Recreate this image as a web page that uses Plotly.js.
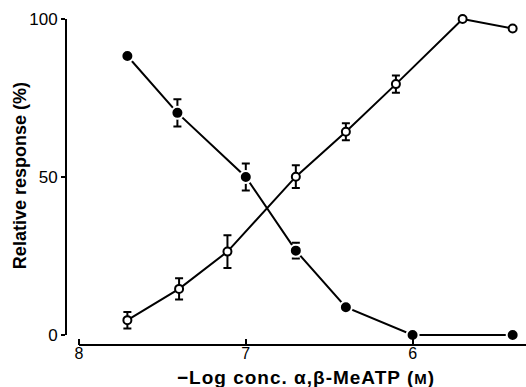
<!DOCTYPE html>
<html>
<head>
<meta charset="utf-8">
<script src="https://cdn.plot.ly/plotly-3.0.1.min.js"></script>
<style>html,body{margin:0;padding:0;background:#fff;}#chart{width:526px;height:387px;}</style>
</head>
<body>
<div id="chart"></div>
<script>
// Closed circles
const xClosed = [7.71, 7.41, 7.0, 6.70, 6.40, 6.0, 5.40];
const yClosed = [88.3, 70.3, 50.0, 26.7, 8.8, 0, 0];
const errClosed = [0, 4.3, 4.3, 2.5, 0, 0, 0];
// Open circles
const xOpen = [7.71, 7.40, 7.11, 6.70, 6.40, 6.10, 5.70, 5.40];
const yOpen = [4.7, 14.6, 26.4, 50.1, 64.3, 79.4, 100, 97];
const errOpen = [2.6, 3.4, 5.2, 3.6, 2.7, 2.7, 0, 0];
const xTicks = [8, 7, 6];
const yTicks = [0, 50, 100];
const xTitle = '\u2212Log conc. \u03b1,\u03b2-MeATP (<span style="font-size:15px">M</span>)';
const yTitle = 'Relative response (%)';

const FONT = 'Liberation Sans, Arial, sans-serif';

const traces = [
  {
    x: xClosed, y: yClosed, type: 'scatter', mode: 'lines+markers',
    line: {color: '#000', width: 2},
    marker: {symbol: 'circle', size: 12, color: '#000', line: {color: '#fff', width: 2}},
    error_y: {type: 'data', array: errClosed, visible: true, color: '#000', thickness: 2, width: 4},
    cliponaxis: false, showlegend: false
  },
  {
    x: xOpen, y: yOpen, type: 'scatter', mode: 'lines+markers',
    line: {color: '#000', width: 2},
    marker: {symbol: 'circle', size: 8, color: '#fff', line: {color: '#000', width: 2}},
    error_y: {type: 'data', array: errOpen, visible: true, color: '#000', thickness: 2, width: 4},
    cliponaxis: false, showlegend: false
  }
];

const layout = {
  width: 526, height: 387,
  margin: {l: 66, r: 0, t: 19, b: 42},
  paper_bgcolor: '#fff', plot_bgcolor: '#fff',
  font: {family: FONT, color: '#000', size: 17},
  xaxis: {
    range: [8.078, 5.32], tickvals: xTicks, ticktext: xTicks.map(String),
    showgrid: false, zeroline: false, showline: false,
    ticks: 'inside', ticklen: 6, tickwidth: 2, tickcolor: '#000',
    ticklabelstandoff: -3,
    tickfont: {size: 16, family: FONT}
  },
  yaxis: {
    range: [-3.16, 100], tickvals: yTicks, ticktext: yTicks.map(String),
    showgrid: false, zeroline: false, showline: false,
    ticks: 'outside', ticklen: 4, tickwidth: 2, tickcolor: '#000',
    tickfont: {size: 17, family: FONT}
  },
  annotations: [
    {text: '<b><span style="letter-spacing:1px">' + xTitle + '</span></b>', xref: 'paper', yref: 'paper',
     x: 0.522, y: -0.06, xanchor: 'center', yanchor: 'top', showarrow: false,
     font: {size: 19, family: FONT}},
    {text: '<b>' + yTitle + '</b>', xref: 'paper', yref: 'paper', textangle: -90,
     x: -0.10, y: 0.518, xanchor: 'center', yanchor: 'middle', showarrow: false,
     font: {size: 18, family: FONT}}
  ],
  shapes: [
    {type: 'line', xref: 'paper', yref: 'y', x0: 0, x1: 0, y0: 0, y1: 100, line: {color: '#000', width: 2}},
    {type: 'line', xref: 'x', yref: 'paper', x0: 8, x1: 5.32, y0: 0, y1: 0, line: {color: '#000', width: 2}}
  ]
};

Plotly.newPlot('chart', traces, layout, {displayModeBar: false, staticPlot: true});
</script>
</body>
</html>
